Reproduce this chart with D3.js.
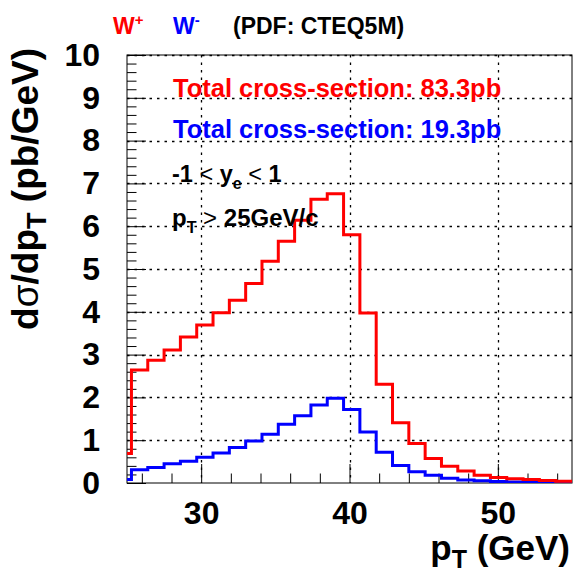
<!DOCTYPE html>
<html>
<head>
<meta charset="utf-8">
<script src="https://cdn.jsdelivr.net/npm/d3@7"></script>
<style>
  body { margin: 0; background: #fff; }
  text { font-family: "Liberation Sans", Arial, Helvetica, sans-serif; font-weight: bold; }
</style>
</head>
<body>
<svg id="chart" width="583" height="576"></svg>
<script>
// bin lower edges (1.1 GeV bins), last bin ends at 55
const binLow = [24.2, 25.3, 26.4, 27.5, 28.6, 29.7, 30.8, 31.9, 33.0, 34.1, 35.2, 36.3, 37.4, 38.5,
                39.6, 40.7, 41.8, 42.9, 44.0, 45.1, 46.2, 47.3, 48.4, 49.5, 50.6, 51.7, 52.8, 53.9]
const binEnd = 55.0

// W+ (red), pb/GeV
const wPlus = [0.69, 2.64, 2.87, 3.11, 3.41, 3.69, 3.98, 4.27, 4.66, 5.18, 5.65, 6.14, 6.63, 6.76,
               5.80, 3.97, 2.31, 1.41, 0.92, 0.57, 0.39, 0.28, 0.18, 0.13, 0.10, 0.08, 0.06, 0.04]
// W- (blue), pb/GeV
const wMinus = [0.08, 0.31, 0.36, 0.45, 0.51, 0.60, 0.70, 0.83, 0.98, 1.14, 1.37, 1.57, 1.82, 1.98,
                1.72, 1.19, 0.72, 0.41, 0.26, 0.18, 0.11, 0.07, 0.05, 0.035, 0.025, 0.02, 0.015, 0.01]

const xTicks = [30, 40, 50]
const yTicks = [0, 1, 2, 3, 4, 5, 6, 7, 8, 9, 10]

const W = 583, H = 576
const margin = {top: 55, right: 11, bottom: 93, left: 127}
const iw = W - margin.left - margin.right,
      ih = H - margin.top - margin.bottom

const svg = d3.select("#chart")
const g = svg.append("g").attr("transform", "translate(" + margin.left + "," + margin.top + ")")

const x = d3.scaleLinear().domain([25, 55]).range([0, iw])
const y = d3.scaleLinear().domain([0, 10]).range([ih, 0])

svg.append("defs").append("clipPath").attr("id", "clip")
   .append("rect").attr("width", iw).attr("height", ih)

// grid (dotted)
const px = v => Math.round(v) + 0.5
g.selectAll(".gx").data(xTicks).enter().append("line")
  .attr("x1", d => px(x(d))).attr("x2", d => px(x(d)))
  .attr("y1", 0).attr("y2", ih)
  .attr("stroke", "#000").attr("stroke-width", 1.3).attr("stroke-dasharray", "2.5,5")
g.selectAll(".gy").data(yTicks.slice(1)).enter().append("line")
  .attr("x1", 0).attr("x2", iw)
  .attr("y1", d => px(y(d))).attr("y2", d => px(y(d)))
  .attr("stroke", "#000").attr("stroke-width", 1.3).attr("stroke-dasharray", "2.5,5")

// frame
g.append("rect").attr("width", iw).attr("height", ih)
  .attr("fill", "none").attr("stroke", "#000").attr("stroke-width", 1)

// axes
const xAxis = g.append("g").attr("transform", "translate(0," + ih + ")")
  .call(d3.axisBottom(x).tickValues(xTicks).tickSize(-19).tickPadding(18).tickFormat(d3.format("d")))
xAxis.select(".domain").remove()
xAxis.selectAll("text").attr("font-size", 32).attr("fill", "#000")
const xMinor = g.append("g").attr("transform", "translate(0," + ih + ")")
  .call(d3.axisBottom(x).tickValues(x.ticks(15).filter(v => !xTicks.includes(v))).tickSize(-9.5).tickFormat(""))
xMinor.select(".domain").remove()

const yAxis = g.append("g")
  .call(d3.axisLeft(y).tickValues(yTicks).tickSize(-19).tickPadding(27).tickFormat(d3.format("d")))
yAxis.select(".domain").remove()
yAxis.selectAll("text").attr("font-size", 32).attr("fill", "#000")
const yMinor = g.append("g")
  .call(d3.axisLeft(y).tickValues(y.ticks(50).filter(v => Math.abs(v - Math.round(v)) > 1e-6)).tickSize(-9.5).tickFormat(""))
yMinor.select(".domain").remove()
g.selectAll(".tick line").attr("stroke", "#000")

// histograms
const step = d3.line().curve(d3.curveStepAfter)
  .x(d => x(d[0])).y(d => y(d[1]))
const histPts = vals => {
  const pts = binLow.map((lo, i) => [Math.max(lo, 25), vals[i]])
  pts.push([binEnd, vals[vals.length - 1]])
  return pts
}
g.append("path").datum(histPts(wMinus)).attr("d", step)
  .attr("fill", "none").attr("stroke", "#0000ff").attr("stroke-width", 3).attr("clip-path", "url(#clip)")
g.append("path").datum(histPts(wPlus)).attr("d", step)
  .attr("fill", "none").attr("stroke", "#ff0000").attr("stroke-width", 3).attr("clip-path", "url(#clip)")

// text annotations
g.append("text").attr("x", 46).attr("y", 42).attr("font-size", 25.5).attr("fill", "#ff0000")
  .text("Total cross-section: 83.3pb")
g.append("text").attr("x", 46).attr("y", 83).attr("font-size", 25.5).attr("fill", "#0000ff")
  .text("Total cross-section: 19.3pb")

const t1 = g.append("text").attr("x", 45).attr("y", 127).attr("font-size", 23.5).attr("fill", "#000")
t1.append("tspan").text("-1 ")
t1.append("tspan").attr("font-weight", "normal").text("<")
t1.append("tspan").text(" y")
t1.append("tspan").attr("font-size", 16).attr("dy", 7).text("e")
t1.append("tspan").attr("dy", -7).attr("font-weight", "normal").text(" <")
t1.append("tspan").text(" 1")

const t2 = g.append("text").attr("x", 45).attr("y", 171).attr("font-size", 24).attr("fill", "#000")
t2.append("tspan").text("p")
t2.append("tspan").attr("font-size", 16).attr("dy", 7).text("T")
t2.append("tspan").attr("dy", -7).attr("font-weight", "normal").text(" >")
t2.append("tspan").text(" 25GeV/c")

// top legend
const lg = svg.append("text").attr("y", 34).attr("font-size", 23)
lg.append("tspan").attr("x", 113).attr("fill", "#ff0000").text("W")
lg.append("tspan").attr("fill", "#ff0000").attr("font-size", 15).attr("dy", -9).text("+")
lg.append("tspan").attr("x", 173).attr("dy", 9).attr("fill", "#0000ff").text("W")
lg.append("tspan").attr("fill", "#0000ff").attr("font-size", 15).attr("dy", -9).text("-")
lg.append("tspan").attr("x", 233).attr("dy", 9).attr("fill", "#000").text("(PDF: CTEQ5M)")

// axis titles
const xt = svg.append("text").attr("x", 570).attr("y", 560).attr("text-anchor", "end").attr("font-size", 35)
xt.append("tspan").text("p")
xt.append("tspan").attr("font-size", 25).attr("dy", 8).text("T")
xt.append("tspan").attr("dy", -8).text(" (GeV)")

const yt = svg.append("text").attr("transform", "translate(38,48) rotate(-90)")
  .attr("text-anchor", "end").attr("font-size", 37)
yt.append("tspan").text("d")
yt.append("tspan").attr("font-weight", "normal").text("σ")
yt.append("tspan").text("/dp")
yt.append("tspan").attr("font-size", 27).attr("dy", 8).text("T")
yt.append("tspan").attr("dy", -8).text(" (pb/GeV)")
</script>
</body>
</html>
